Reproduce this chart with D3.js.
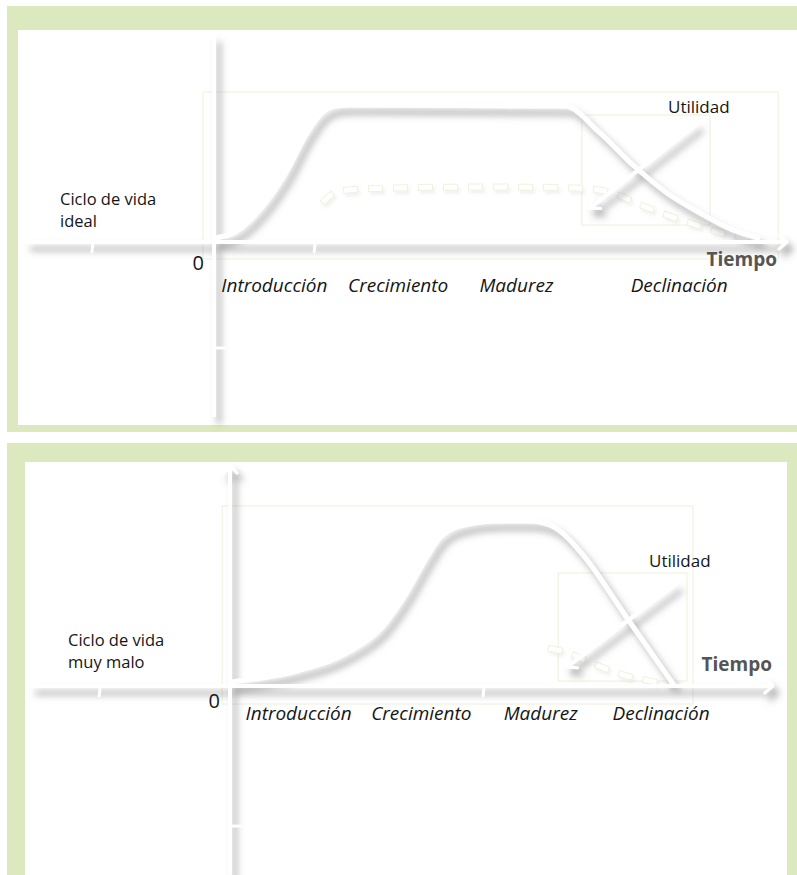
<!DOCTYPE html>
<html lang="es">
<head>
<meta charset="utf-8">
<script src="https://cdn.jsdelivr.net/npm/d3@7/dist/d3.min.js"></script>
<style>
  html, body { margin: 0; padding: 0; background: #fff; }
  svg { display: block; }
  text { font-family: "Open Sans", "Noto Sans", sans-serif; fill: #151515; }
  .phase { font-style: italic; font-size: 19px; }
  .name { font-size: 16.5px; }
  .zero { font-size: 20px; }
  .util { font-size: 17px; }
  .tiempo { font-size: 19px; font-weight: bold; fill: #555; }
</style>
</head>
<body>
<div id="chart"></div>
<script>
// Ciclo de vida: dos paneles (ideal / muy malo), líneas blancas con sombra.

const phases = ["Introducción", "Crecimiento", "Madurez", "Declinación"];

// centro de cada fase en el eje de tiempo (0..100)
const phaseMidIdeal = [10.8, 33.3, 54.8, 84.4];
const phaseMidMalo = [12.3, 34.6, 56.3, 78.2];

// curva de ventas [tiempo, nivel]
const ventasIdeal = [
  [0, 2.9], [3.3, 6.4], [6.9, 17.9], [12.4, 46.4], [16.7, 77.9], [18.7, 89.3],
  [20, 94.3], [21.8, 97.1], [24.5, 97.9], [63.6, 97.1], [70, 77.9], [76, 55],
  [82.2, 35], [88.2, 20.7], [94.2, 8.6], [98.7, 2.9]
];
const ventasMalo = [
  [0.2, 2.4], [12.5, 9.4], [21.6, 20.6], [27.6, 35.3], [31.3, 51.8], [35.6, 75.9],
  [38, 87.6], [42.2, 94.7], [48.4, 97.1], [54.4, 97.1], [58, 94.7], [60.7, 88.8],
  [64, 77.1], [72, 40], [80.4, 1.2]
];

// curva punteada (apenas visible)
const punteadaIdeal = [
  [19.5, 27.8], [21.3, 35.7], [24.5, 37.8], [37.3, 39.3], [62.7, 39.3], [71.5, 37.8],
  [75.6, 29.3], [79.3, 23.5], [83.6, 17.1], [88.2, 11.4], [92.7, 5.7], [97.3, 2.1]
];
const punteadaMalo = [
  [57.6, 22.4], [61.3, 20], [67.1, 11.2], [71.6, 5.9], [76.2, 2.9], [80.2, 0.6]
];

// flecha "Utilidad" [inicio, fin]
const utilidadIdeal = [[87.8, 85], [68.2, 24.3]];
const utilidadMalo = [[81.1, 60.6], [61.1, 11.2]];

// recuadros guía tenues [x1, y1, x2, y2]
const guiasIdeal = [[-2.2, 107.1, 102.4, -12.1], [66.7, 90.7, 90, 12.1]];
const guiasMalo = [[-1.6, 105.9, 84, -10.6], [59.5, 66.5, 82.9, 2.9]];

// extensión de los ejes [min, max]
const ejeXIdeal = [-34.5, 104], ejeYIdeal = [-125, 148];
const ejeXMalo = [-36.5, 98.5], ejeYMalo = [-111, 130];

// marcas sueltas sobre los ejes
const marcasXIdeal = [-22.2, 18.2], marcasYIdeal = [-75.7];
const marcasXMalo = [-23.8, 46], marcasYMalo = [-82.4];

const W = 797, H = 875;

const panels = [
  {
    frame: { x: 7, y: 6, w: 790, h: 426 }, inner: { x: 18, y: 30, w: 779, h: 395 },
    x0: 215, y0: 242, yPx: 140,
    ventas: ventasIdeal, punteada: punteadaIdeal, utilidad: utilidadIdeal, guias: guiasIdeal,
    ejeX: ejeXIdeal, ejeY: ejeYIdeal, marcasX: marcasXIdeal, marcasY: marcasYIdeal,
    mids: phaseMidIdeal, arrowY: false,
    name: ["Ciclo de vida", "ideal"], nameX: 60, nameY: 205,
    zeroDy: 28, phaseDy: 50, tiempo: [777, 266], utilPos: [668, 113]
  },
  {
    frame: { x: 7, y: 443, w: 790, h: 440 }, inner: { x: 25, y: 462, w: 762, h: 420 },
    x0: 231, y0: 686, yPx: 170,
    ventas: ventasMalo, punteada: punteadaMalo, utilidad: utilidadMalo, guias: guiasMalo,
    ejeX: ejeXMalo, ejeY: ejeYMalo, marcasX: marcasXMalo, marcasY: marcasYMalo,
    mids: phaseMidMalo, arrowY: true,
    name: ["Ciclo de vida", "muy malo"], nameX: 68, nameY: 646,
    zeroDy: 22, phaseDy: 34, tiempo: [772, 671], utilPos: [649, 567]
  }
];

const svg = d3.select("#chart").append("svg")
  .attr("width", W).attr("height", H)
  .attr("viewBox", `0 0 ${W} ${H}`);

const defs = svg.append("defs");

const shadow = defs.append("filter")
  .attr("id", "sombra")
  .attr("x", "-20%").attr("y", "-20%")
  .attr("width", "140%").attr("height", "140%");
shadow.append("feDropShadow")
  .attr("dx", 5).attr("dy", 7)
  .attr("stdDeviation", 3.8)
  .attr("flood-color", "#666")
  .attr("flood-opacity", 0.55);

const soft = defs.append("filter")
  .attr("id", "sombraSuave")
  .attr("x", "-20%").attr("y", "-50%")
  .attr("width", "140%").attr("height", "200%");
soft.append("feDropShadow")
  .attr("dx", 2).attr("dy", 3)
  .attr("stdDeviation", 1.5)
  .attr("flood-color", "#888")
  .attr("flood-opacity", 0.1);

const marker = defs.append("marker")
  .attr("id", "punta")
  .attr("markerUnits", "userSpaceOnUse")
  .attr("viewBox", "-12 -10 16 20")
  .attr("markerWidth", 16).attr("markerHeight", 20)
  .attr("refX", 0).attr("refY", 0)
  .attr("orient", "auto");
marker.append("path")
  .attr("d", "M-8,-7 L0,0 L-8,7")
  .attr("fill", "none")
  .attr("stroke", "#fff")
  .attr("stroke-width", 3)
  .attr("stroke-linecap", "round")
  .attr("stroke-linejoin", "round");

panels.forEach(p => {
  const g = svg.append("g");

  g.append("rect")
    .attr("x", p.frame.x).attr("y", p.frame.y)
    .attr("width", p.frame.w).attr("height", p.frame.h)
    .attr("fill", "#dce8bd");
  g.append("rect")
    .attr("x", p.inner.x).attr("y", p.inner.y)
    .attr("width", p.inner.w).attr("height", p.inner.h)
    .attr("fill", "#fff");

  const x = d3.scaleLinear().domain([0, 100]).range([p.x0, p.x0 + 550]);
  const y = d3.scaleLinear().domain([0, 100]).range([p.y0, p.y0 - p.yPx]);

  // recuadros guía
  g.append("g").selectAll("rect")
    .data(p.guias)
    .join("rect")
    .attr("x", d => x(d[0]))
    .attr("y", d => y(d[1]))
    .attr("width", d => x(d[2]) - x(d[0]))
    .attr("height", d => y(d[3]) - y(d[1]))
    .attr("fill", "none")
    .attr("stroke", "#eef0da")
    .attr("stroke-width", 1);

  const line = d3.line().x(d => x(d[0])).y(d => y(d[1])).curve(d3.curveMonotoneX);
  const lineNat = d3.line().x(d => x(d[0])).y(d => y(d[1])).curve(d3.curveBasis);

  // curva punteada
  const dashG = g.append("g").attr("filter", "url(#sombraSuave)");
  dashG.append("path")
    .attr("d", lineNat(p.punteada))
    .attr("fill", "none")
    .attr("stroke", "#f0f1de")
    .attr("stroke-width", 7)
    .attr("stroke-dasharray", "15 10");
  dashG.append("path")
    .attr("d", lineNat(p.punteada))
    .attr("fill", "none")
    .attr("stroke", "#fff")
    .attr("stroke-width", 5)
    .attr("stroke-dasharray", "13 12")
    .attr("stroke-dashoffset", -1);

  // ejes, curva y flecha con sombra
  const sh = g.append("g").attr("filter", "url(#sombra)");

  sh.append("line")
    .attr("x1", x(p.ejeX[0])).attr("x2", x(p.ejeX[1]))
    .attr("y1", y(0)).attr("y2", y(0))
    .attr("stroke", "#fff").attr("stroke-width", 4)
    .attr("marker-end", "url(#punta)");

  sh.append("line")
    .attr("x1", x(0) - 1).attr("x2", x(0) - 1)
    .attr("y1", y(p.ejeY[0])).attr("y2", y(p.ejeY[1]))
    .attr("stroke", "#fff").attr("stroke-width", 4)
    .attr("marker-end", p.arrowY ? "url(#punta)" : null);

  sh.append("path")
    .attr("d", line(p.ventas))
    .attr("fill", "none")
    .attr("stroke", "#fff")
    .attr("stroke-width", 5)
    .attr("stroke-linecap", "round")
    .attr("stroke-linejoin", "round");

  sh.append("line")
    .attr("x1", x(p.utilidad[0][0])).attr("y1", y(p.utilidad[0][1]))
    .attr("x2", x(p.utilidad[1][0])).attr("y2", y(p.utilidad[1][1]))
    .attr("stroke", "#fff").attr("stroke-width", 4)
    .attr("marker-end", "url(#punta)");

  // marcas blancas que cortan la sombra de los ejes
  g.append("g").selectAll("line")
    .data(p.marcasX)
    .join("line")
    .attr("x1", d => x(d)).attr("x2", d => x(d) - 1)
    .attr("y1", y(0) + 1).attr("y2", y(0) + 11)
    .attr("stroke", "#fff").attr("stroke-width", 3);
  g.append("g").selectAll("line")
    .data(p.marcasY)
    .join("line")
    .attr("x1", x(0)).attr("x2", x(0) + 11)
    .attr("y1", d => y(d)).attr("y2", d => y(d))
    .attr("stroke", "#fff").attr("stroke-width", 3);

  // textos
  g.append("g").selectAll("text")
    .data(p.name)
    .join("text")
    .attr("class", "name")
    .attr("x", p.nameX)
    .attr("y", (d, i) => p.nameY + i * 22)
    .text(d => d);

  g.append("text")
    .attr("class", "zero")
    .attr("x", x(0) - 11).attr("y", y(0) + p.zeroDy)
    .attr("text-anchor", "end")
    .text("0");

  g.append("g").selectAll("text")
    .data(phases)
    .join("text")
    .attr("class", "phase")
    .attr("x", (d, i) => x(p.mids[i]))
    .attr("y", y(0) + p.phaseDy)
    .attr("text-anchor", "middle")
    .text(d => d);

  g.append("text")
    .attr("class", "tiempo")
    .attr("x", p.tiempo[0]).attr("y", p.tiempo[1])
    .attr("text-anchor", "end")
    .text("Tiempo");

  g.append("text")
    .attr("class", "util")
    .attr("x", p.utilPos[0]).attr("y", p.utilPos[1])
    .text("Utilidad");
});
</script>
</body>
</html>
